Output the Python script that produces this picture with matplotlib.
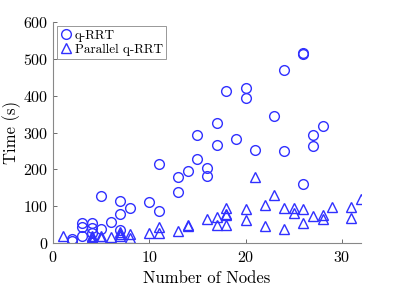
import matplotlib
matplotlib.use("Agg")
import matplotlib.pyplot as plt

# q-RRT timings (nodes, seconds)
qrrt_nodes = [2, 2, 3, 3, 3, 4, 4, 4, 5, 5, 6, 7, 7, 7, 8, 10, 11, 11, 13, 13,
              14, 15, 15, 16, 16, 17, 17, 18, 19, 20, 20, 21, 23, 24, 24, 26, 26,
              26, 27, 27, 28]
qrrt_time = [5, 10, 55, 43, 20, 53, 40, 28, 128, 37, 58, 115, 79, 35, 94, 110, 214,
             86, 138, 178, 196, 228, 293, 203, 182, 325, 267, 414, 283, 422, 394,
             253, 346, 470, 251, 515, 513, 161, 292, 264, 319]

# Parallel q-RRT timings
par_nodes = [1, 4, 4, 4, 4, 5, 5, 6, 7, 7, 7, 8, 8, 10, 11, 11, 13, 14, 14, 16,
             17, 17, 18, 18, 18, 18, 20, 20, 21, 22, 22, 23, 24, 24, 25, 25, 26,
             26, 27, 28, 28, 29, 31, 31, 32]
par_time = [19, 5, 10, 15, 20, 13, 20, 15, 19, 31, 25, 24, 13, 26, 44, 26, 32, 45,
            50, 65, 70, 49, 94, 76, 80, 48, 92, 62, 180, 104, 46, 130, 94, 39, 94,
            81, 93, 55, 72, 76, 65, 97, 99, 67, 120]

plt.rcParams['font.family'] = 'cmr10'
plt.rcParams['axes.formatter.use_mathtext'] = True

fig = plt.figure(figsize=(3.99, 2.91), dpi=100)
ax = fig.add_axes([0.133, 0.165, 0.772, 0.759])

col = '#3030ff'
ax.plot(qrrt_nodes, qrrt_time, 'o', mfc='none', mec=col, mew=1.0, ms=7,
        label='q-RRT')
ax.plot(par_nodes, par_time, '^', mfc='none', mec=col, mew=1.0, ms=7,
        label='Parallel q-RRT')

ax.set_xlim(0, 32)
ax.set_ylim(0, 600)
ax.set_xticks([0, 10, 20, 30])
ax.set_yticks([0, 100, 200, 300, 400, 500, 600])
ax.set_xlabel('Number of Nodes', fontsize=12, labelpad=4)
ax.set_ylabel('Time (s)', fontsize=12, labelpad=1)

for s in ['top', 'right']:
    ax.spines[s].set_visible(False)
for s in ['left', 'bottom']:
    ax.spines[s].set_color('#888888')
    ax.spines[s].set_linewidth(0.8)
ax.tick_params(direction='in', length=3, width=0.6, color='#555555',
               labelsize=11.5)
ax.tick_params(axis='x', pad=5)
ax.tick_params(axis='y', pad=3.5)

leg = ax.legend(loc='upper left', fontsize=9.5, handlelength=0.8,
                handletextpad=0.3, borderpad=0.25, labelspacing=0.15,
                borderaxespad=0.3, fancybox=False, framealpha=1)
leg.get_frame().set_edgecolor('#888888')
leg.get_frame().set_linewidth(0.6)

plt.savefig('out.png', dpi=100)
